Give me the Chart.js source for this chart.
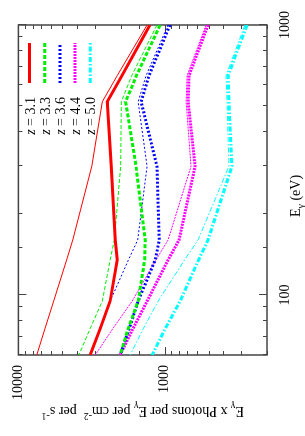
<!DOCTYPE html>
<html>
<head>
<meta charset="utf-8">
<script src="https://cdn.jsdelivr.net/npm/chart.js@4.4.1/dist/chart.umd.min.js"></script>
<style>
  html, body { margin: 0; padding: 0; background: #fff; overflow: hidden; }
  body { width: 305px; height: 436px; position: relative; }
  /* the plot is drawn landscape and turned a quarter to the left */
  #wrap {
    position: absolute; left: 0; top: 0;
    width: 436px; height: 305px;
    transform-origin: 0 0;
    transform: translate(0, 436px) rotate(-90deg);
  }
</style>
</head>
<body>
<div id="wrap"><canvas id="chart" width="436" height="305"></canvas></div>
<script>
// photon energy samples (eV)
const energies = [1000, 650, 520, 300, 160, 135, 95, 75, 60];

// legend labels
const redshifts = ['3.1', '3.3', '3.6', '4.4', '5.0'];

// E x photons per E per cm^-2 per s^-1, thick curves
const z31Thick = [1260, 1960, 2470, 2320, 2180, 2110, 2360, 2760, 3230];
const z33Thick = [1075, 1560, 1850, 1570, 1360, 1370, 1520, 1780, 2015];
const z36Thick = [920, 1280, 1450, 1130, 1090, 1160, 1520, 1750, 2015];
const z44Thick = [506, 682, 692, 620, 798, 948, 1318, 1651, 2015];
const z50Thick = [274, 369, 364, 347, 506, 587, 785, 994, 1219];

// thin curves
const z31Thin = [1320, 2110, 2670, 3150, 4250, 4680, 5740, 6590, 7490];
const z33Thin = [1130, 1680, 1980, 2000, 2210, 2360, 2670, 3240, 3860];
const z36Thin = [950, 1340, 1520, 1320, 1530, 1770, 2360, 2780, 3230];
const z44Thin = [522, 703, 714, 661, 948, 1148, 1669, 2267, 2984];
const z50Thin = [283, 381, 375, 364, 592, 732, 1109, 1404, 1722];

// axis tick labels
const xTickLabels = [100, 1000];
const yTickLabels = [1000, 10000];

const FONT = "'Liberation Serif', 'Times New Roman', serif";

const styles = [
    { color: '#ff0000', dash: [] },
    { color: '#00ee00', dash: [4, 2] },
    { color: '#0000ff', dash: [2, 2] },
    { color: '#ff00ff', dash: [2, 1] },
    { color: '#00ffff', dash: [5, 2, 1.5, 2] }
];

const thickSeries = [z31Thick, z33Thick, z36Thick, z44Thick, z50Thick];
const thinSeries = [z31Thin, z33Thin, z36Thin, z44Thin, z50Thin];

function toPoints(values) {
    return energies.map((e, i) => ({ x: e, y: values[i] }));
}

const datasets = [];
thickSeries.forEach((vals, i) => {
    datasets.push({
        label: 'z = ' + redshifts[i],
        data: toPoints(vals),
        borderColor: styles[i].color,
        borderDash: styles[i].dash,
        borderWidth: 3
    });
    datasets.push({
        label: '',
        data: toPoints(thinSeries[i]),
        borderColor: styles[i].color,
        borderDash: styles[i].dash,
        borderWidth: 1
    });
});

function fontFor(p) {
    const size = (p.sub || p.sup) ? 10 : 14;
    return (p.it ? 'italic ' : '') + size + 'px ' + FONT;
}

// text with sub/superscripts, drawn left to right from a baseline
function drawRich(ctx, parts, x, y, align) {
    let total = 0;
    parts.forEach(p => { ctx.font = fontFor(p); total += ctx.measureText(p.t).width; });
    let cx = align === 'center' ? x - total / 2 : align === 'right' ? x - total : x;
    ctx.textAlign = 'left';
    ctx.textBaseline = 'alphabetic';
    parts.forEach(p => {
        ctx.font = fontFor(p);
        const dy = p.sub ? 4 : p.sup ? -6 : 0;
        ctx.fillText(p.t, cx, y + dy);
        cx += ctx.measureText(p.t).width;
    });
}

const isDecade = v => Math.abs(Math.log10(v) - Math.round(Math.log10(v))) < 1e-9;

// gnuplot-like border with inward ticks on all four sides
const frame = {
    id: 'frame',
    beforeDatasetsDraw(chart) {
        const { ctx, chartArea: a, scales: { x, y } } = chart;
        ctx.save();
        ctx.strokeStyle = '#444';
        ctx.lineWidth = 1;
        x.ticks.forEach(t => {
            const px = Math.round(x.getPixelForValue(t.value)) + 0.5;
            const len = isDecade(t.value) ? 8 : 4;
            ctx.beginPath();
            ctx.moveTo(px, a.bottom); ctx.lineTo(px, a.bottom - len);
            ctx.moveTo(px, a.top); ctx.lineTo(px, a.top + len);
            ctx.stroke();
        });
        y.ticks.forEach(t => {
            const py = Math.round(y.getPixelForValue(t.value)) + 0.5;
            const len = isDecade(t.value) ? 8 : 4;
            ctx.beginPath();
            ctx.moveTo(a.left, py); ctx.lineTo(a.left + len, py);
            ctx.moveTo(a.right, py); ctx.lineTo(a.right - len, py);
            ctx.stroke();
        });
        ctx.lineWidth = 1.5;
        ctx.strokeRect(a.left, a.top, a.right - a.left, a.bottom - a.top);
        ctx.restore();
    },
    afterDraw(chart) {
        const { ctx, chartArea: a } = chart;
        ctx.save();
        ctx.fillStyle = '#000';
        // x title
        drawRich(ctx, [{ t: 'E' }, { t: 'γ', sub: true }, { t: ' (eV)' }], 240, 300, 'center');
        // y title, reading bottom to top
        ctx.translate(29, (a.top + a.bottom) / 2);
        ctx.rotate(-Math.PI / 2);
        drawRich(ctx, [
            { t: 'E' }, { t: 'γ', sub: true }, { t: ' x Photons per ' },
            { t: 'E' }, { t: 'γ', sub: true }, { t: ' per cm' }, { t: '-2', sup: true },
            { t: '  per s' }, { t: '-1', sup: true }
        ], 0, 0, 'center');
        ctx.restore();
    }
};

// key in the upper right corner: text, then a sample of the thick line
const key = {
    id: 'key',
    afterDatasetsDraw(chart) {
        const { ctx } = chart;
        ctx.save();
        redshifts.forEach((z, i) => {
            const rowY = 29.5 + i * 15.2;
            ctx.fillStyle = '#000';
            drawRich(ctx, [{ t: 'z', it: true }, { t: ' = ' + z }], 339, rowY + 5, 'right');
            ctx.strokeStyle = styles[i].color;
            ctx.lineWidth = 3;
            ctx.setLineDash(styles[i].dash);
            ctx.beginPath();
            ctx.moveTo(353, rowY);
            ctx.lineTo(393, rowY);
            ctx.stroke();
        });
        ctx.restore();
    }
};

new Chart(document.getElementById('chart'), {
    type: 'line',
    data: { datasets },
    options: {
        responsive: false,
        animation: false,
        events: [],
        layout: { padding: { left: 0, right: 25, top: 18, bottom: 0 } },
        elements: {
            point: { radius: 0 },
            line: { tension: 0, fill: false }
        },
        plugins: {
            legend: { display: false },
            tooltip: { enabled: false }
        },
        scales: {
            x: {
                type: 'logarithmic',
                min: 60,
                max: 1000,
                grid: { display: false, drawTicks: false },
                border: { display: false },
                ticks: {
                    autoSkip: false,
                    maxRotation: 0,
                    padding: 10,
                    color: '#000',
                    font: { family: FONT, size: 14 },
                    callback: v => xTickLabels.includes(Math.round(v)) && isDecade(v) ? String(Math.round(v)) : ''
                },
                afterFit: s => { s.height = 38; }
            },
            y: {
                type: 'logarithmic',
                min: 200,
                max: 10000,
                grid: { display: false, drawTicks: false },
                border: { display: false },
                ticks: {
                    autoSkip: false,
                    padding: 10,
                    color: '#000',
                    font: { family: FONT, size: 14 },
                    callback: v => yTickLabels.includes(Math.round(v)) && isDecade(v) ? String(Math.round(v)) : ''
                },
                afterFit: s => { s.width = 81; }
            }
        }
    },
    plugins: [frame, key]
});
</script>
</body>
</html>
